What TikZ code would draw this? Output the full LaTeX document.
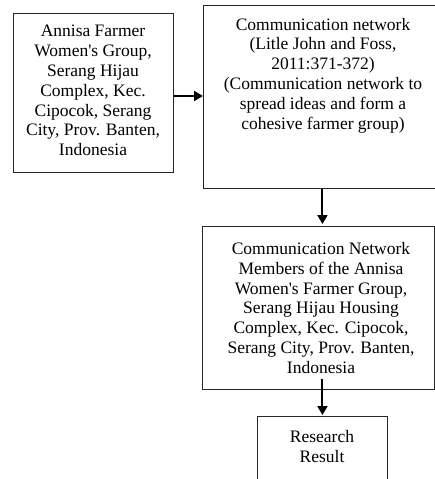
\documentclass[tikz,border=0pt]{standalone}
\usepackage{fontspec}
\setmainfont{Liberation Serif}
\usetikzlibrary{arrows.meta}
\begin{document}
\begin{tikzpicture}[x=1pt,y=1pt,
  box/.style={draw=black!85, line width=0.9pt, rectangle, inner sep=0pt},
  txt/.style={align=center, inner sep=0pt, font=\fontsize{17.5}{19.8}\selectfont},
  arr/.style={line width=2pt, -{Triangle[length=9pt,width=10pt]}}]
\useasboundingbox (0,0) rectangle (435,-479);
\begin{scope}
\clip (0,0) rectangle (435,-479);
\node[box, minimum width=160pt, minimum height=159pt, anchor=north west] (b1) at (13,-13) {};
\node[box, minimum width=232pt, minimum height=183pt, anchor=north west] (b2) at (203,-5) {};
\node[box, minimum width=232pt, minimum height=163pt, anchor=north west] (b3) at (202,-226) {};
\node[box, minimum width=130pt, minimum height=90pt, anchor=north west] (b4) at (257,-416) {};
\end{scope}
\node[txt] (t1) at (93,-90.5) {Annisa Farmer\\Women\textquotesingle s Group,\\Serang Hijau\\Complex, Kec.\\Cipocok, Serang\\City, Prov. Banten,\\Indonesia};
\node[txt] (t2) at (323,-75.5) {Communication network\\(Litle John and Foss,\\2011:371-372)\\(Communication network to\\spread ideas and form a\\cohesive farmer group)};
\node[txt] (t3) at (321,-308) {Communication Network\\Members of the Annisa\\Women\textquotesingle s Farmer Group,\\Serang Hijau Housing\\Complex, Kec. Cipocok,\\Serang City, Prov. Banten,\\Indonesia};
\node[txt] (t4) at (322,-446.5) {Research\\Result};
\draw[arr] (b1.east |- 0,-96) -- (b2.west |- 0,-96);
\draw[arr] (b2.south -| b4.north) -- ([yshift=2pt]b3.north -| b4.north);
\draw[arr] ([yshift=11pt]b3.south -| b4.north) -- ([yshift=1pt]b4.north);
\end{tikzpicture}
\end{document}
